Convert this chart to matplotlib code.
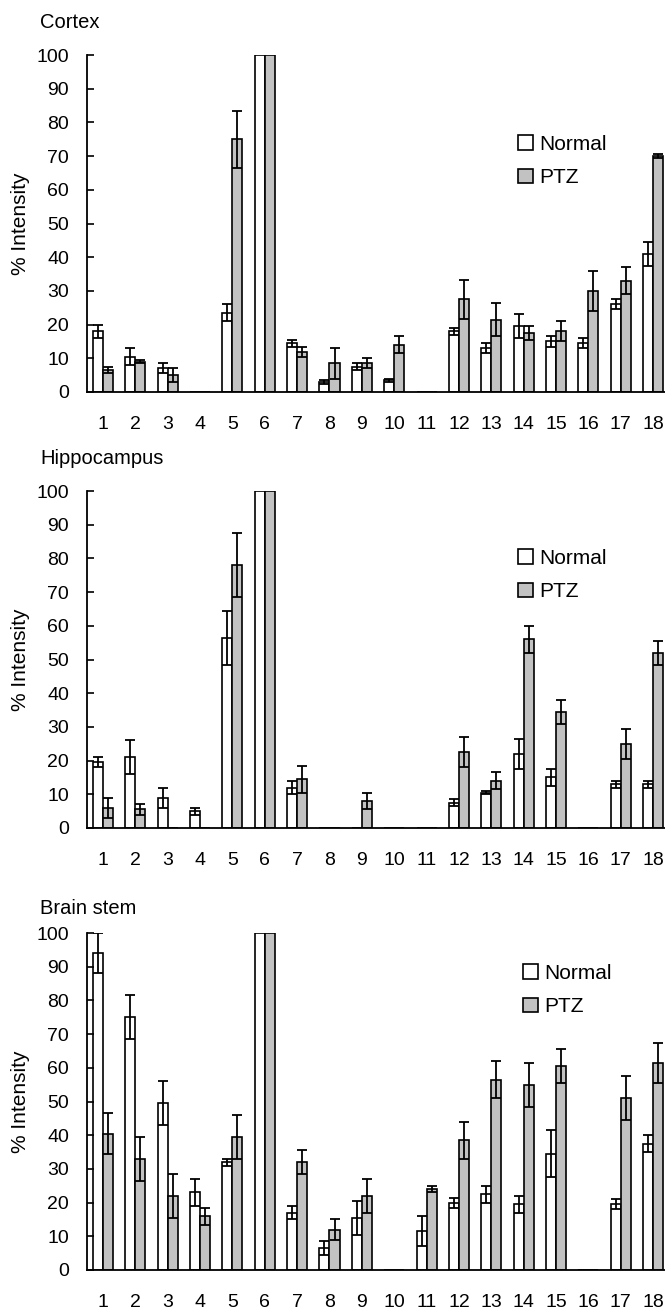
import numpy as np
import matplotlib.pyplot as plt

plt.rcParams['font.family'] = ['Liberation Sans', 'DejaVu Sans']

# spot numbers 1..18
spots = list(range(1, 19))

# Cortex
cortex_normal = [18, 10.5, 7, 0, 23.5, 100, 14.5, 3, 7.5, 3.5, 0, 18, 13, 19.5, 15, 14.5, 26, 41]
cortex_normal_err = [2, 2.5, 1.5, 0, 2.5, 0, 1, 0.5, 1, 0.5, 0, 1, 1.5, 3.5, 1.5, 1.5, 1.5, 3.5]
cortex_ptz = [6.5, 9, 5, 0, 75, 100, 12, 8.5, 8.5, 14, 0, 27.5, 21.5, 17.5, 18, 30, 33, 70]
cortex_ptz_err = [1, 0.5, 2, 0, 8.5, 0, 1.5, 4.5, 1.5, 2.5, 0, 5.8, 5, 2, 3, 6, 4, 0.5]

# Hippocampus
hippo_normal = [19.5, 21, 9, 5, 56.5, 100, 12, 0, 0, 0, 0, 7.5, 10.5, 22, 15, 0, 13, 13]
hippo_normal_err = [1.5, 5, 3, 1, 8, 0, 2, 0, 0, 0, 0, 1, 0.5, 4.5, 2.5, 0, 1, 1]
hippo_ptz = [6, 5.5, 0, 0, 78, 100, 14.5, 0, 8, 0, 0, 22.5, 14, 56, 34.5, 0, 25, 52]
hippo_ptz_err = [3, 1.5, 0, 0, 9.5, 0, 4, 0, 2.5, 0, 0, 4.5, 2.5, 4, 3.5, 0, 4.5, 3.5]

# Brain stem
stem_normal = [94, 75, 49.5, 23, 32, 100, 17, 6.5, 15.5, 0, 11.5, 20, 22.5, 19.5, 34.5, 0, 19.5, 37.5]
stem_normal_err = [6, 6.5, 6.5, 4, 1, 0, 2, 2, 5, 0, 4.5, 1.5, 2.5, 2.5, 7, 0, 1.5, 2.5]
stem_ptz = [40.5, 33, 22, 16, 39.5, 100, 32, 12, 22, 0, 24, 38.5, 56.5, 55, 60.5, 0, 51, 61.5]
stem_ptz_err = [6, 6.5, 6.5, 2.5, 6.5, 0, 3.5, 3, 5, 0, 1, 5.5, 5.5, 6.5, 5, 0, 6.5, 6]

panels = [
    ("Cortex", cortex_normal, cortex_normal_err, cortex_ptz, cortex_ptz_err),
    ("Hippocampus", hippo_normal, hippo_normal_err, hippo_ptz, hippo_ptz_err),
    ("Brain stem", stem_normal, stem_normal_err, stem_ptz, stem_ptz_err),
]

# axes boxes in pixels (y of 100, y of 0)
W, H = 665, 1313
boxes = [(55, 392), (491, 828), (933, 1270)]
legend_pos = [(518, 161), (518, 575), (523, 990)]
title_pos = [(40, 22), (40, 459), (40, 908)]

fig = plt.figure(figsize=(W / 100, H / 100), dpi=100)

x = np.array(spots)
bw = 0.31
left = 87

for (name, n, ne, p, pe), (top, bot), (lx, ly), (tx, ty) in zip(panels, boxes, legend_pos, title_pos):
    ax = fig.add_axes([left / W, 1 - bot / H, 1 - left / W, (bot - top) / H])
    b1 = ax.bar(x - bw / 2, n, bw, color='white', edgecolor='black', linewidth=1.2, label='Normal')
    b2 = ax.bar(x + bw / 2, p, bw, color='#c2c2c2', edgecolor='black', linewidth=1.2, label='PTZ')
    for off, vals, errs in ((-bw / 2, n, ne), (bw / 2, p, pe)):
        vals = np.array(vals)
        errs = np.array(errs)
        m = errs > 0
        ax.errorbar(x[m] + off, vals[m], yerr=errs[m], fmt='none', ecolor='black',
                    elinewidth=1.3, capsize=3.3, capthick=1.3)
    ax.set_xlim(0.505, 18.37)
    ax.set_ylim(0, 100)
    ax.set_yticks(range(0, 101, 10))
    ax.set_xticks(spots)
    ax.spines['top'].set_visible(False)
    ax.spines['right'].set_visible(False)
    ax.spines['left'].set_linewidth(1.3)
    ax.spines['bottom'].set_linewidth(1.3)
    ax.tick_params(axis='y', direction='in', length=5, width=1.2, labelsize=14, pad=13)
    ax.tick_params(axis='x', length=0, labelsize=14, pad=17)
    ax.set_ylabel('% Intensity', fontsize=15)
    ax.yaxis.set_label_coords(-57 / (W - left), 0.5)
    fig.text(tx / W, 1 - ty / H, name, fontsize=14.5, va='center', ha='left')
    ax.legend(handles=[b1, b2], loc='center left', frameon=False, fontsize=15,
              handlelength=0.7, handleheight=0.7, handletextpad=0.3, labelspacing=0.7,
              borderpad=0, borderaxespad=0,
              bbox_to_anchor=((lx - left) / (W - left), (bot - ly) / (bot - top)))

fig.savefig('out.png', dpi=100)
